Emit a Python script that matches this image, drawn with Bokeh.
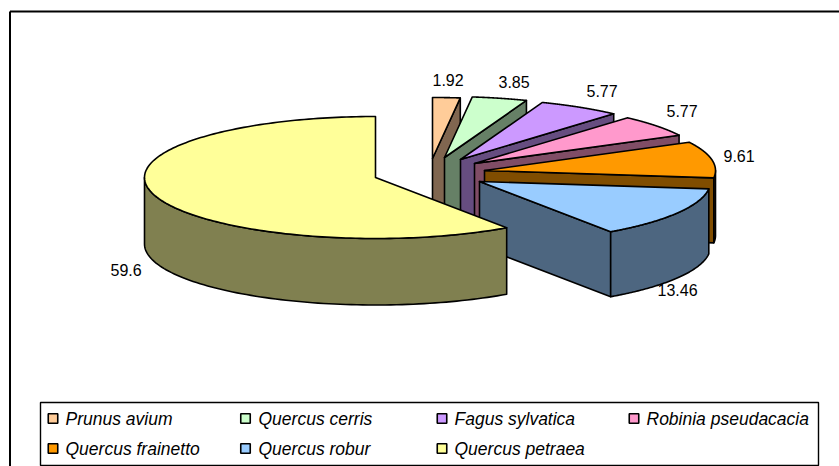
import numpy as np
from bokeh.plotting import figure
from bokeh.models import Range1d
from bokeh.core.properties import value
from bokeh.embed import file_html
from bokeh.resources import INLINE

species = ["Prunus avium", "Quercus cerris", "Fagus sylvatica", "Robinia pseudacacia",
           "Quercus frainetto", "Quercus robur", "Quercus petraea"]
shares = [1.92, 3.85, 5.77, 5.77, 9.61, 13.46, 59.6]
labels = ["1.92", "3.85", "5.77", "5.77", "9.61", "13.46", "59.6"]
top_colors = ["#FFCC99", "#CCFFCC", "#CC99FF", "#FF99CC", "#FF9900", "#99CCFF", "#FFFF99"]
side_colors = ["#806650", "#668066", "#664D80", "#804D66", "#804D00", "#4D6680", "#808050"]

# layout of the exploded 3D pie, in page pixels
RX, RY = 231, 61
apex_x = [432, 444, 460, 474, 484, 479, 375]
apex_y = [158, 157, 159, 163, 170, 181, 177]
cut_depth = [78, 70, 65, 65, 65, 65, 65]
wall_depth = [65, 65, 65, 65, 65, 65, 66.5]
label_x = [432, 498, 586, 666, 723, 657, 110]
label_y = [79, 81, 90, 110, 155, 289, 269]
legend_sw_x = [52.5, 245, 441.5, 633.5, 52.5, 245, 441.5]
legend_tx_x = [65, 258, 454, 646, 65, 258, 454]
legend_y = [418, 418, 418, 418, 448, 448, 448]

p = figure(width=839, height=466, x_range=Range1d(0, 839), y_range=Range1d(466, 0),
           output_backend="svg", toolbar_location=None, min_border=0,
           outline_line_color=None, background_fill_color="white", border_fill_color="white")
p.axis.visible = False
p.grid.visible = False

# chart frame (open on the right, runs off the bottom)
p.line([9.5, 9.5], [466, 11], line_color="black", line_width=2)
p.line([9.5, 839], [11, 11], line_color="black", line_width=2)

total = sum(shares)
edges = np.concatenate([[0], np.cumsum(shares)]) / total * 2 * np.pi

xs, ys, fills = [], [], []
for i in range(len(shares)):
    a0, a1 = edges[i], edges[i + 1]
    cx, cy = apex_x[i], apex_y[i]
    # radial cut face
    if np.sin(a1) > 1e-6:
        ex, ey = cx + RX * np.sin(a1), cy - RY * np.cos(a1)
        xs.append([cx, ex, ex, cx]); ys.append([cy, ey, ey + cut_depth[i], cy + cut_depth[i]]); fills.append(side_colors[i])
    # outer wall: only the front half of the rim shows
    w0, w1 = max(a0, np.pi / 2), min(a1, 3 * np.pi / 2)
    if w1 > w0:
        t = np.linspace(w0, w1, 90)
        wx = cx + RX * np.sin(t); wy = cy - RY * np.cos(t)
        xs.append(np.concatenate([wx, wx[::-1]]).tolist())
        ys.append(np.concatenate([wy, (wy + wall_depth[i])[::-1]]).tolist()); fills.append(side_colors[i])
    # top face
    t = np.linspace(a0, a1, 180)
    xs.append([cx] + (cx + RX * np.sin(t)).tolist() + [cx])
    ys.append([cy] + (cy - RY * np.cos(t)).tolist() + [cy]); fills.append(top_colors[i])

p.patches(xs, ys, fill_color=fills, line_color="black", line_width=1.6, line_join="round")

p.text(label_x, label_y, text=labels, text_font=value("Liberation Sans"), text_font_size="16px",
       text_color="black", text_align="left", text_baseline="middle")

# legend
p.quad(left=[40], right=[818], top=[402], bottom=[465], fill_color="white", line_color="black", line_width=1.4)
p.rect(legend_sw_x, legend_y, width=9.5, height=9.5, fill_color=top_colors, line_color="black", line_width=1.6)
p.text(legend_tx_x, legend_y, text=species, text_font=value("Liberation Sans"), text_font_size="17.5px",
       text_font_style="italic", text_color="black", text_align="left", text_baseline="middle")

open("out.html", "w").write(file_html(p, INLINE))
